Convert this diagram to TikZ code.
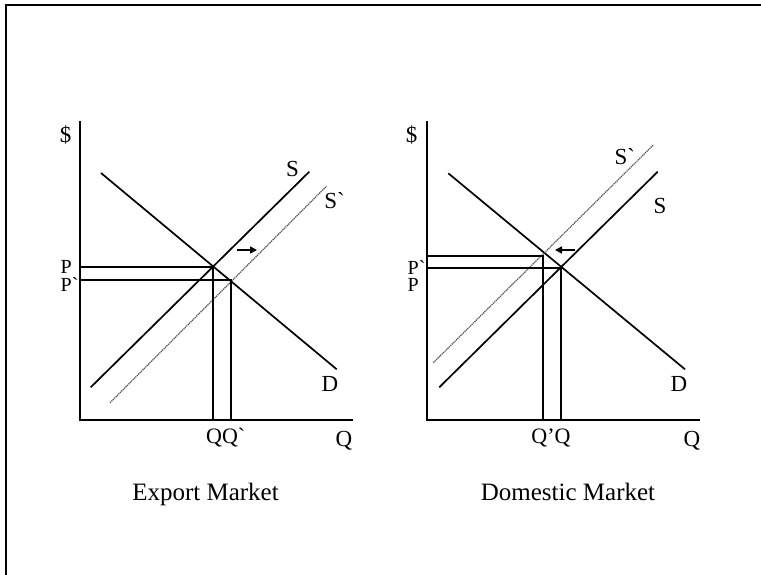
\documentclass[tikz,border=0pt]{standalone}
\usepackage{fontspec}
\setmainfont{Liberation Serif}[Ligatures=TeXOff]
\usetikzlibrary{arrows.meta}
\tikzset{
  curve/.style={line width=1.7pt},
  guide/.style={line width=2pt},
  shifted/.style={line width=1.2pt, dash pattern=on 1.2pt off 0.8pt, black!70},
  shiftarrow/.style={line width=1.6pt, -{Triangle[length=7pt,width=7pt]}},
  lab/.style={inner sep=0pt, font=\fontsize{23}{26}\selectfont},
  smalllab/.style={inner sep=0pt, text height=0.66em, text depth=0pt, font=\fontsize{20}{22}\selectfont},
  qlab/.style={inner sep=0pt, font=\fontsize{22}{24}\selectfont},
  captext/.style={inner sep=0pt, anchor=base, font=\fontsize{25}{30}\selectfont},
}
\begin{document}
\begin{tikzpicture}[x=1pt,y=-1pt]
\useasboundingbox (0,0) rectangle (761,575);
% frame
\coordinate (fb) at (6,576);
\coordinate (ftl) at (6,5);
\coordinate (fr) at (762,5);
\draw[line width=2pt] (fb) -- (ftl) -- (fr);

% ===== Export market =====
\coordinate (ay1) at (80,121.5);
\coordinate (ao1) at (80,420);
\coordinate (ax1) at (353,420);
\draw[guide] (ay1) -- (ao1) -- (ax1);
\coordinate (d1a) at (101,173);
\coordinate (d1b) at (336.7,369.3);
\draw[curve] (d1a) -- (d1b);
\coordinate (s1a) at (90.7,387.3);
\coordinate (s1b) at (309.3,171.7);
\draw[curve] (s1a) -- (s1b);
\coordinate (t1a) at (110,402.7);
\coordinate (t1b) at (326.7,186);
\draw[shifted] (t1a) -- (t1b);
\coordinate (e1) at (213,267);
\coordinate (f1) at (231,280);
\coordinate (p1) at (80,267);
\coordinate (pp1) at (80,280);
\coordinate (q1) at (213,420);
\coordinate (qq1) at (231,420);
\draw[guide] (p1) -- (e1) -- (q1);
\draw[guide] (pp1) -- (f1) -- (qq1);
\coordinate (ar1a) at (236.7,250);
\coordinate (ar1b) at (257,250);
\draw[shiftarrow] (ar1a) -- (ar1b);
\node[lab, anchor=base] (dl1) at (65.5,143) {\$};
\node[lab, anchor=base] (sl1) at (292.5,176.7) {S};
\node[lab, anchor=base] (stl1) at (334.5,208.3) {S\symbol{"60}};
\node[lab, anchor=base] (dlab1) at (330,391.7) {D};
\node[smalllab, anchor=base west] (pl1) at (60.5,273.5) {P};
\node[smalllab, anchor=base west] (ppl1) at (60.5,291.5) {P\symbol{"60}};
\node[qlab, anchor=base west] (ql1) at (206,443.3) {QQ\symbol{"60}};
\node[lab, anchor=base] (qax1) at (344,446) {Q};
\node[captext] (cap1) at (205.5,500) {Export Market};

% ===== Domestic market =====
\coordinate (ay2) at (427,121.5);
\coordinate (ao2) at (427,420);
\coordinate (ax2) at (700,420);
\draw[guide] (ay2) -- (ao2) -- (ax2);
\coordinate (d2a) at (448.3,173.3);
\coordinate (d2b) at (685,369.3);
\draw[curve] (d2a) -- (d2b);
\coordinate (s2a) at (439.3,387.3);
\coordinate (s2b) at (657.7,171.7);
\draw[curve] (s2a) -- (s2b);
\coordinate (t2a) at (433.3,362.7);
\coordinate (t2b) at (653.3,145);
\draw[shifted] (t2a) -- (t2b);
\coordinate (e2) at (561,268);
\coordinate (f2) at (543,256);
\coordinate (p2) at (427,268);
\coordinate (pp2) at (427,256);
\coordinate (q2) at (561,420);
\coordinate (qq2) at (543,420);
\draw[guide] (p2) -- (e2) -- (q2);
\draw[guide] (pp2) -- (f2) -- (qq2);
\coordinate (ar2a) at (575,250);
\coordinate (ar2b) at (555,250);
\draw[shiftarrow] (ar2a) -- (ar2b);
\node[lab, anchor=base] (dl2) at (411.7,143) {\$};
\node[lab, anchor=base west] (stl2) at (614.5,165) {S\symbol{"60}};
\node[lab, anchor=base] (sl2) at (660,213.3) {S};
\node[lab, anchor=base] (dlab2) at (679,391.7) {D};
\node[smalllab, anchor=base west] (ppl2) at (407.5,274.5) {P\symbol{"60}};
\node[smalllab, anchor=base west] (pl2) at (407.5,291.5) {P};
\node[qlab, anchor=base west] (ql2) at (531.2,443.3) {Q’Q};
\node[lab, anchor=base] (qax2) at (692,446) {Q};
\node[captext] (cap2) at (568,500) {Domestic Market};
\end{tikzpicture}
\end{document}
